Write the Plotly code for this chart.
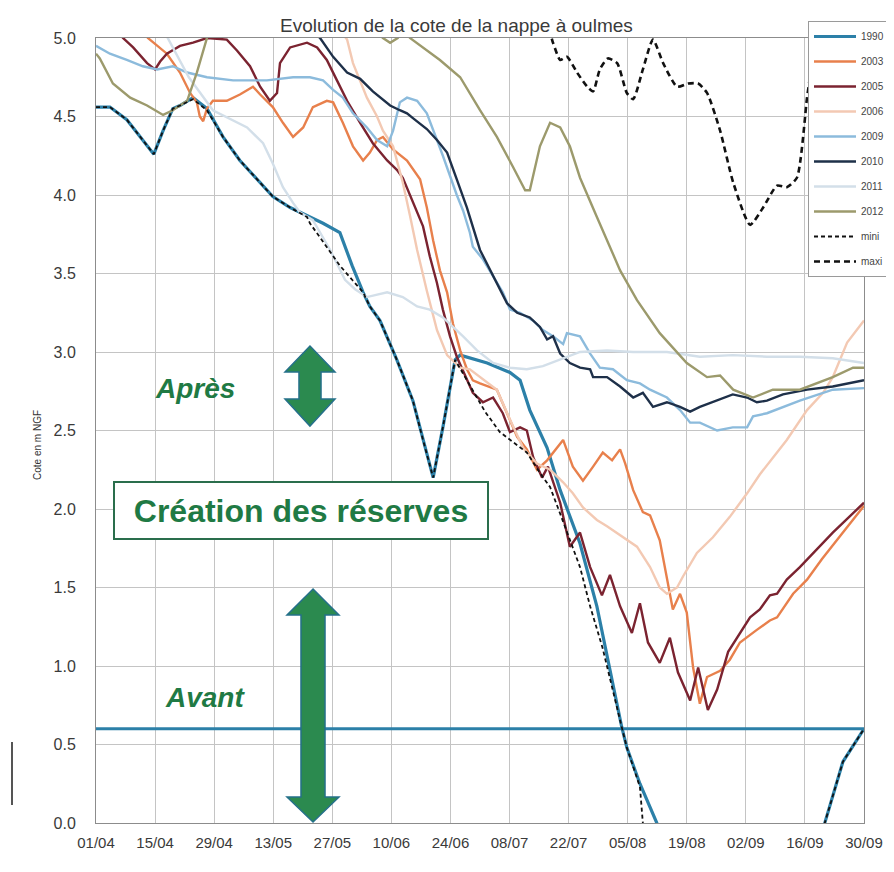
import plotly.graph_objects as go

# ---------------- axis ticks ----------------
TICK_DAYS = [0, 14, 28, 42, 56, 70, 84, 98, 112, 126, 140, 154, 168, 182]
TICK_LABELS = ["01/04", "15/04", "29/04", "13/05", "27/05", "10/06", "24/06",
               "08/07", "22/07", "05/08", "19/08", "02/09", "16/09", "30/09"]
Y_TICKS = [0, 0.5, 1, 1.5, 2, 2.5, 3, 3.5, 4, 4.5, 5]
Y_LABELS = ["0.0", "0.5", "1.0", "1.5", "2.0", "2.5", "3.0", "3.5", "4.0", "4.5", "5.0"]

# days counted from 01/04, water level in m NGF
d1990 = [0, 3.3, 7.3, 11.1, 13.7, 15.9, 18.2, 19.9, 23, 26.3, 30.1, 34.1, 38.2, 41.9, 46, 50,
         53.8, 57.8, 60.7, 63.3, 64.9, 67.3, 71.3, 75.1, 77.5, 79.9, 82.2, 83.9, 85.1, 86.3,
         92.7, 98.1, 100.5, 102.8, 106.9, 110, 114.7, 118.7, 124.6, 125.8, 128.9, 132.9, 134,
         171, 172.7, 177, 182]
v1990 = [4.56, 4.56, 4.48, 4.35, 4.26, 4.41, 4.55, 4.57, 4.62, 4.55, 4.37, 4.22, 4.10, 3.99, 3.92, 3.87,
         3.82, 3.76, 3.55, 3.38, 3.29, 3.20, 2.95, 2.69, 2.44, 2.20, 2.52, 2.78, 2.95, 2.98,
         2.93, 2.87, 2.82, 2.63, 2.39, 2.12, 1.78, 1.38, 0.61, 0.48, 0.25, 0.0, -0.3,
         -0.3, 0.0, 0.39, 0.60]

d2003 = [0, 10, 12.3, 16.8, 19.9, 22.3, 23.9, 24.6, 25.4, 26.3, 27.7, 31, 34.1, 37.2, 38.9, 41.9,
         44.3, 46.7, 49.1, 51.4, 54.7, 56.2, 58.5, 60.9, 63.3, 64.9, 66.6, 68, 70.4, 73.7, 76.8,
         78.4, 79.9, 81.5, 83.2, 84.6, 86.3, 87.9, 89.3, 91, 95, 97.4, 99.8, 102.1, 104.5, 106.9,
         108.3, 110.7, 113, 115.4, 117.8, 120.1, 122.3, 124.2, 125.4, 127.3, 129.6, 131.3, 133.6,
         135.3, 136.7, 138.4, 140, 141.5, 143.1, 144.8, 147.9, 150.2, 152.6, 156.6, 159.7, 161.4,
         165.2, 168.5, 172, 177, 182]
v2003 = [5.4, 5.1, 5.0, 4.9, 4.78, 4.65, 4.59, 4.5, 4.47, 4.55, 4.6, 4.6, 4.64, 4.69, 4.64, 4.56,
         4.46, 4.37, 4.43, 4.56, 4.6, 4.59, 4.46, 4.31, 4.22, 4.27, 4.35, 4.37, 4.29, 4.22, 4.10,
         3.92, 3.71, 3.52, 3.38, 3.18, 3.01, 2.89, 2.82, 2.80, 2.76, 2.61, 2.46, 2.38, 2.25, 2.31,
         2.36, 2.44, 2.27, 2.18, 2.27, 2.36, 2.31, 2.38, 2.29, 2.12, 1.98, 1.96, 1.80,
         1.55, 1.36, 1.46, 1.34, 0.99, 0.76, 0.93, 0.97, 1.04, 1.15, 1.23, 1.29, 1.31,
         1.46, 1.55, 1.68, 1.85, 2.02]

d2005 = [0, 5, 6.4, 8.8, 12.1, 14, 15.2, 16.8, 19.9, 23, 26.3, 31, 33.4, 36.5, 38.9, 41.2, 42.9,
         43.6, 46, 50, 52.4, 54.7, 57.1, 59.5, 62.6, 65.6, 69, 71.3, 72.7, 75.1, 77.5, 79.1, 80.8,
         82.2, 83.9, 85.5, 87.9, 89.3, 91.7, 94.1, 96.4, 98.1, 100.5, 102.1, 103.6, 105.7, 107.1,
         109.2, 110, 112.3, 114.7, 117.1, 119.9, 121.8, 124.2, 127, 128.9, 130.8, 133.6, 136,
         137.9, 140.8, 142.7, 145, 147.2, 149.8, 152.6, 155, 157.3, 159.7, 161.4, 163.7, 166.8,
         174.6, 182]
v2005 = [5.3, 5.05, 5.0, 4.94, 4.84, 4.8, 4.85, 4.9, 4.95, 4.97, 5.0, 4.99, 4.92, 4.82, 4.69, 4.6, 4.65,
         4.84, 4.94, 4.97, 4.94, 4.86, 4.73, 4.6, 4.46, 4.33, 4.22, 4.16, 4.11, 3.95, 3.8, 3.61, 3.44,
         3.27, 3.1, 2.97, 2.82, 2.74, 2.68, 2.71, 2.61, 2.49, 2.52, 2.5, 2.33, 2.2, 2.27,
         2.1, 2.04, 1.76, 1.85, 1.63, 1.45, 1.58, 1.38, 1.21, 1.40, 1.15, 1.02, 1.18,
         0.96, 0.78, 0.99, 0.72, 0.85, 1.09, 1.21, 1.31, 1.36, 1.45, 1.46, 1.55, 1.63,
         1.85, 2.04]

d2006 = [0, 50, 57.8, 59.5, 60.9, 64.2, 66.6, 68, 70.4, 72.7, 74.4, 76.1, 78.4, 80.8, 83.2, 86.3,
         88.6, 95, 98.1, 101.2, 104.5, 107.6, 110.7, 113, 115.4, 118.7, 121.1, 124.9, 128.2,
         131.3, 133.6, 135.3, 137.7, 139.1, 142.4, 146.2, 150.2, 154.3, 157.3, 163.7, 168.5,
         172.3, 174.6, 178, 182]
v2006 = [5.5, 5.3, 5.05, 4.99, 4.84, 4.62, 4.5, 4.41, 4.31, 4.08, 3.87, 3.65, 3.39, 3.14, 2.98, 2.9,
         2.89, 2.76, 2.57, 2.39, 2.29, 2.25, 2.17, 2.10, 2.01, 1.93, 1.89, 1.82, 1.76,
         1.63, 1.50, 1.46, 1.50, 1.57, 1.72, 1.82, 1.95, 2.10, 2.22, 2.44, 2.63,
         2.74, 2.84, 3.06, 3.2]

d2009 = [0, 3.3, 7.3, 11.1, 14.5, 18.2, 21.6, 26.3, 32.5, 40.5, 46.7, 50.7, 53.8, 56.2, 58.5, 60.9,
         64.2, 66.6, 69, 70.4, 72, 73.7, 76.1, 78.4, 80.8, 82.2, 85.5, 87, 88.6, 89.3, 91.7, 94.1,
         96.4, 98.1, 100.5, 103.6, 105.9, 108.3, 110.7, 111.6, 114.7, 117.1, 119.4, 122.5, 125.8,
         128.9, 131.3, 135.3, 138.4, 140.8, 143.1, 147.2, 150.9, 154.3, 155.7, 159, 162.8, 166.8,
         174.6, 182]
v2009 = [4.95, 4.9, 4.86, 4.82, 4.8, 4.82, 4.78, 4.75, 4.73, 4.73, 4.75, 4.75, 4.73, 4.67, 4.62, 4.52,
         4.43, 4.35, 4.31, 4.41, 4.59, 4.62, 4.6, 4.52, 4.35, 4.25, 4.0, 3.9, 3.76, 3.67, 3.59, 3.48,
         3.38, 3.27, 3.25, 3.2, 3.14, 3.1, 3.05, 3.12, 3.1, 2.99, 2.9, 2.89, 2.82,
         2.8, 2.76, 2.71, 2.63, 2.55, 2.55, 2.5, 2.52, 2.52, 2.59, 2.61, 2.65, 2.69,
         2.76, 2.77]

d2010 = [0, 45, 53.1, 56.2, 59.5, 62.6, 65.6, 69.7, 72, 73.7, 75.1, 78.4, 80.8, 83.2, 85.5, 87.9,
         91, 95, 97.4, 99.8, 102.8, 105.2, 106.9, 108.3, 110, 112.3, 114.7, 117.1, 117.8, 121.1,
         124.2, 127.3, 129.6, 132, 135.3, 138.4, 140.8, 143.1, 147.2, 150.9, 154.3, 156.6, 159,
         162.8, 168.5, 174.6, 182]
v2010 = [5.5, 5.2, 5.0, 4.88, 4.78, 4.74, 4.66, 4.57, 4.54, 4.52, 4.49, 4.42, 4.35, 4.27, 4.1, 3.92,
         3.65, 3.44, 3.31, 3.25, 3.22, 3.16, 3.08, 3.1, 2.99, 2.93, 2.9, 2.89, 2.84, 2.84,
         2.78, 2.71, 2.74, 2.65, 2.68, 2.65, 2.62, 2.65, 2.69, 2.73, 2.71, 2.68, 2.69,
         2.73, 2.76, 2.78, 2.82]

d2011 = [0, 15, 22, 27.7, 35.8, 39.6, 41.9, 44.3, 46.7, 48.3, 51.4, 55.5, 59, 61.4, 64.2, 69, 72.7,
         76.1, 79.1, 82.2, 84.6, 87, 90.3, 94.1, 98.1, 102.1, 105.9, 110, 114.7, 121.1, 127.3,
         135.3, 143.1, 150.9, 159, 166.8, 174.6, 182]
v2011 = [5.3, 5.1, 4.75, 4.54, 4.43, 4.33, 4.2, 4.05, 3.95, 3.89, 3.84, 3.65, 3.46, 3.4, 3.35, 3.38, 3.35,
         3.29, 3.27, 3.22, 3.16, 3.1, 3.01, 2.93, 2.9, 2.89, 2.91, 2.95, 3.0, 3.01, 3.0,
         3.0, 2.97, 2.98, 2.97, 2.97, 2.96, 2.93]

d2012 = [0, 0.9, 4, 8.1, 12.1, 15.9, 18.2, 21.6, 23.9, 25.4, 26.3, 28, 60, 66, 68, 69.7, 71.5, 73,
         74.4, 81.5, 86.3, 91, 95, 98.8, 101.7, 102.8, 105.2, 107.6, 110, 112.3, 114.7, 118.7,
         124.2, 128.2, 133.6, 140, 144.8, 147.9, 151, 155.7, 160.4, 166.8, 174.6, 179.4, 182]
v2012 = [4.9, 4.87, 4.71, 4.62, 4.57, 4.51, 4.54, 4.6, 4.78, 4.92, 5.0, 5.2, 5.3, 5.05, 5.0, 4.97, 5.0, 5.05,
         5.0, 4.86, 4.75, 4.54, 4.37, 4.18, 4.03, 4.03, 4.31, 4.46, 4.43, 4.31, 4.11, 3.86,
         3.52, 3.33, 3.12, 2.93, 2.84, 2.85, 2.76, 2.71, 2.76, 2.76, 2.84, 2.90, 2.90]

d_mini = [0, 3.3, 7.3, 11.1, 13.7, 15.9, 18.2, 19.9, 23, 26.3, 30.1, 34.1, 38.2, 41.9, 46, 50, 50.7,
          54.3, 57.8, 60.7, 63.3, 64.9, 67.3, 71.3, 75.1, 77.5, 79.9, 82.2, 83.9, 85.1, 87.9, 91,
          92.2, 95.7, 98.1, 102.1, 105.2, 107.6, 110, 112.3, 114.7, 117.1, 120, 124.6, 125.8,
          128.9, 129.6, 130.5, 171, 172.7, 177, 182]
v_mini = [4.56, 4.56, 4.48, 4.35, 4.26, 4.41, 4.55, 4.57, 4.61, 4.54, 4.37, 4.22, 4.10, 3.99, 3.92, 3.86, 3.82,
          3.68, 3.55, 3.46, 3.38, 3.29, 3.20, 2.95, 2.69, 2.44, 2.20, 2.52, 2.78, 2.95, 2.82, 2.68,
          2.62, 2.49, 2.44, 2.36, 2.23, 2.14, 1.97, 1.80, 1.63, 1.38, 1.12, 0.61, 0.48,
          0.23, 0.0, -0.3, -0.3, 0.0, 0.39, 0.60]

d_maxi = [0, 105, 108.3, 110, 111.6, 114, 116.4, 117.8, 119.4, 121.3, 123.5, 125.8, 127.3, 129.6,
          132, 134.4, 137.7, 140.3, 142.7, 144.8, 147.9, 151, 155, 158.1, 161.4, 163.7, 166.1,
          168.5, 169.2, 171, 175, 182]
v_maxi = [5.4, 5.2, 4.97, 4.86, 4.88, 4.78, 4.69, 4.66, 4.80, 4.87, 4.84, 4.65, 4.61, 4.80,
          4.99, 4.84, 4.69, 4.71, 4.71, 4.65, 4.41, 4.08, 3.81, 3.92, 4.06, 4.05, 4.11,
          4.62, 4.75, 5.0, 5.3, 5.4]

THRESHOLD_DAYS = [0, 182]
THRESHOLD_LEVEL = [0.6, 0.6]

SERIES = [
    ("1990", d1990, v1990, "#2c80a8", 3.2, "solid"),
    ("2003", d2003, v2003, "#e8804c", 2.4, "solid"),
    ("2005", d2005, v2005, "#7b2330", 2.4, "solid"),
    ("2006", d2006, v2006, "#f3c9b3", 2.4, "solid"),
    ("2009", d2009, v2009, "#8cbbdc", 2.4, "solid"),
    ("2010", d2010, v2010, "#1e3049", 2.4, "solid"),
    ("2011", d2011, v2011, "#d3dfe9", 2.4, "solid"),
    ("2012", d2012, v2012, "#9c9a6c", 2.4, "solid"),
    ("mini", d_mini, v_mini, "#111111", 1.8, "4px,3px"),
    ("maxi", d_maxi, v_maxi, "#111111", 2.6, "6px,4px"),
]

fig = go.Figure()

fig.add_trace(go.Scatter(x=THRESHOLD_DAYS, y=THRESHOLD_LEVEL, mode="lines",
                         line=dict(color="#2c80a8", width=3), showlegend=False,
                         hoverinfo="skip"))

for name, xs, ys, col, w, dash in SERIES:
    shape = "spline" if name == "maxi" else "linear"
    fig.add_trace(go.Scatter(x=xs, y=ys, mode="lines", name=name, legendgroup=name,
                             line=dict(color=col, width=w, dash=dash, shape=shape,
                                       smoothing=0.6 if shape == "spline" else None)))

# ---- page geometry (the page body has an 8px margin) ----
OFFSET = 8
FIG_W, FIG_H = 894 - OFFSET, 872 - OFFSET
# plot area in screen pixels
PLOT_L, PLOT_R, PLOT_T, PLOT_B = 96, 864, 38, 823


def px(xp):
    return (xp - PLOT_L) / (PLOT_R - PLOT_L)


def py(yp):
    return (PLOT_B - yp) / (PLOT_B - PLOT_T)


def double_arrow(cx, top, head1, head2, bottom, hw, sw):
    pts = [(cx, top), (cx + hw, head1), (cx + sw, head1), (cx + sw, head2), (cx + hw, head2),
           (cx, bottom), (cx - hw, head2), (cx - sw, head2), (cx - sw, head1), (cx - hw, head1)]
    return "M " + " L ".join(f"{px(a):.4f},{py(b):.4f}" for a, b in pts) + " Z"


GREEN = "#2b8a4f"
EDGE = "#25708a"
TXT_GREEN = "#1f7a44"

shapes = [
    dict(type="path", xref="paper", yref="paper",
         path=double_arrow(310, 346, 372, 399, 426, 25, 11),
         fillcolor=GREEN, line=dict(color=EDGE, width=1.5), layer="above"),
    dict(type="path", xref="paper", yref="paper",
         path=double_arrow(313, 589, 615, 797, 822, 26, 12),
         fillcolor=GREEN, line=dict(color=EDGE, width=1.5), layer="above"),
    dict(type="line", xref="paper", yref="paper", x0=px(12), x1=px(12), y0=py(742), y1=py(805),
         line=dict(color="#555555", width=2)),
]

annotations = [
    dict(text="Evolution de la cote de la nappe à oulmes", xref="paper", yref="paper",
         x=px(456), y=py(25), showarrow=False, xanchor="center", yanchor="middle",
         font=dict(family="Liberation Sans, Arial, sans-serif", size=19, color="#3a3a3a")),
    dict(text="Cote en m NGF", xref="paper", yref="paper", x=px(37), y=py(445),
         textangle=-90, showarrow=False, xanchor="center", yanchor="middle",
         font=dict(family="Liberation Sans, Arial, sans-serif", size=10, color="#333333")),
    dict(text="<b><i>Après</i></b>", xref="paper", yref="paper", x=px(195), y=py(388),
         showarrow=False, xanchor="center", yanchor="middle",
         font=dict(family="Liberation Sans, Arial, sans-serif", size=28, color=TXT_GREEN)),
    dict(text="<b><i>Avant</i></b>", xref="paper", yref="paper", x=px(205), y=py(697),
         showarrow=False, xanchor="center", yanchor="middle",
         font=dict(family="Liberation Sans, Arial, sans-serif", size=28, color=TXT_GREEN)),
    dict(text="<b>Création des réserves</b>", xref="paper", yref="paper", x=px(301), y=py(510.5),
         showarrow=False, xanchor="center", yanchor="middle", width=372, height=55,
         bgcolor="white", bordercolor="#2a6e4c", borderwidth=2, borderpad=0,
         font=dict(family="Liberation Sans, Arial, sans-serif", size=32, color=TXT_GREEN)),
]

fig.update_layout(
    width=FIG_W, height=FIG_H,
    margin=dict(l=PLOT_L - OFFSET, r=FIG_W - (PLOT_R - OFFSET), t=PLOT_T - OFFSET,
                b=FIG_H - (PLOT_B - OFFSET), autoexpand=False),
    paper_bgcolor="white", plot_bgcolor="white",
    font=dict(family="Liberation Sans, Arial, sans-serif", color="#3a3a3a"),
    showlegend=True,
    legend=dict(x=px(808), y=py(21), xanchor="left", yanchor="top",
                bgcolor="white", bordercolor="#9a9a9a", borderwidth=1,
                font=dict(size=10, color="#444444"), itemwidth=42,
                tracegroupgap=6, traceorder="grouped"),
    shapes=shapes, annotations=annotations,
    xaxis=dict(range=[0, 182], tickmode="array", tickvals=TICK_DAYS, ticktext=TICK_LABELS,
               showgrid=True, gridcolor="#c4c4c4", gridwidth=1, zeroline=False,
               showline=True, linecolor="#8c8c8c", linewidth=1, mirror=True,
               ticks="", tickfont=dict(size=15, color="#3a3a3a"), ticklabelstandoff=6),
    yaxis=dict(range=[0, 5], tickmode="array", tickvals=Y_TICKS, ticktext=Y_LABELS,
               showgrid=True, gridcolor="#c4c4c4", gridwidth=1, zeroline=False,
               showline=True, linecolor="#8c8c8c", linewidth=1, mirror=True,
               ticks="", tickfont=dict(size=16, color="#3a3a3a"), ticklabelstandoff=16),
)

fig.write_html("out.html")
